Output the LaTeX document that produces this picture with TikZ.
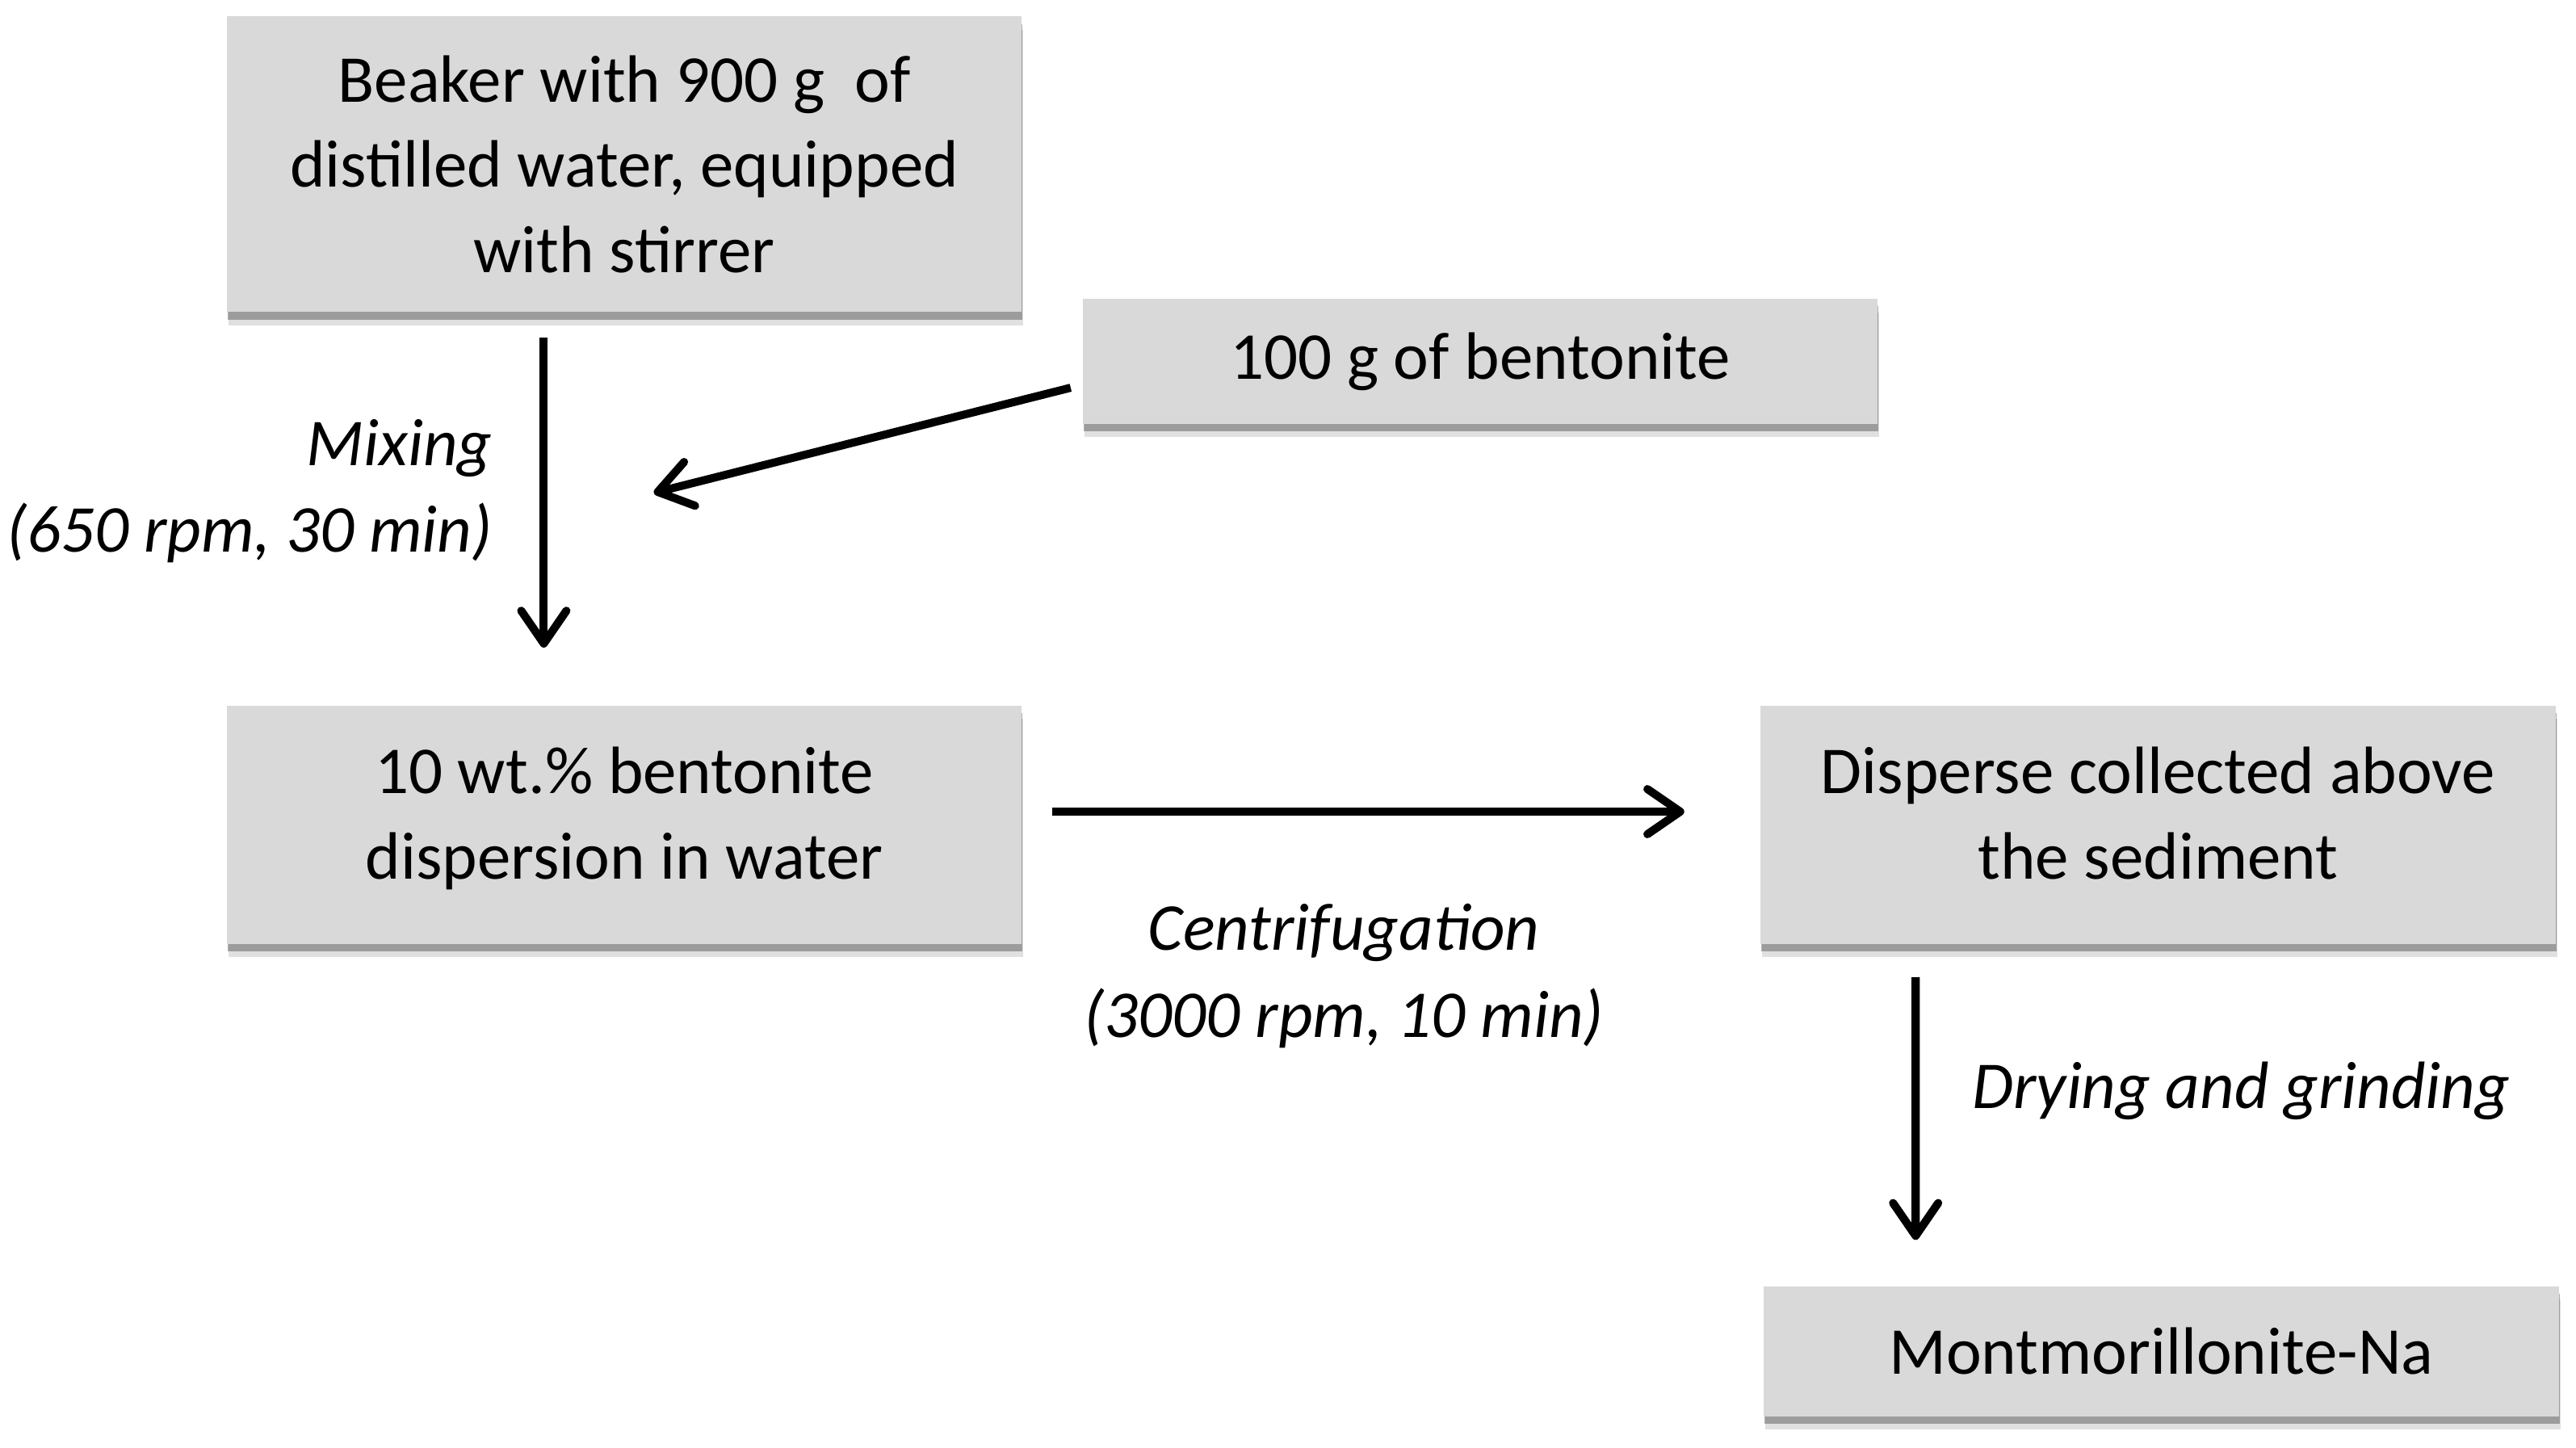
\documentclass[tikz,border=0pt]{standalone}
\usepackage{fontspec}
\setmainfont{Carlito}
\usepackage{xcolor}
\usetikzlibrary{arrows.meta,shadows}

\definecolor{boxgray}{HTML}{D9D9D9}

\tikzset{
    stepbox/.style={fill=boxgray,inner sep=0pt,align=center,minimum width=9.68cm,
        drop shadow={shadow xshift=0.02cm,shadow yshift=-0.16cm,fill=black,opacity=0.12},
        drop shadow={shadow xshift=0.01cm,shadow yshift=-0.09cm,fill=black,opacity=0.3}},
    arr/.style={-{Straight Barb[length=4mm,width=5.5mm,round]},line width=2.8pt,line join=round},
    lbl/.style={font=\fontsize{23.2}{30}\selectfont\itshape,inner sep=0pt}
}

\begin{document}
\begin{tikzpicture}[x=0.02cm,y=-0.02cm,font=\fontsize{23.2}{29.6}\selectfont]
    \useasboundingbox (0,0) rectangle (1568,881.3);

    % Boxes
    \node[stepbox,minimum height=3.6cm] (beaker) at (380,100)
        {Beaker with 900 g\ \ of\\distilled water, equipped\\with stirrer};
    \node[stepbox,minimum height=1.52cm] (bent) at (901,220) {100 g of bentonite};
    \node[stepbox,minimum height=2.9cm] (disp) at (380,502)
        {10 wt.\% bentonite\\dispersion in water\\[-0.75cm]\mbox{}};
    \node[stepbox,minimum height=2.9cm] (coll) at (1313.5,502)
        {Disperse collected above\\the sediment\\[-0.75cm]\mbox{}};
    \node[stepbox,minimum height=1.58cm] (mmt) at (1315.5,822.5) {Montmorillonite-Na};

    % Arrows
    \coordinate (mixpt) at (398,300);
    \draw[arr] ([xshift=-0.98cm,yshift=-0.3cm]beaker.south) -- ([xshift=-0.98cm,yshift=0.7cm]disp.north);
    \draw[arr] ([xshift=-0.14cm,yshift=-0.32cm]bent.west) -- (mixpt);
    \draw[arr] ([xshift=0.36cm,yshift=0.16cm]disp.east) -- ([xshift=-0.92cm,yshift=0.16cm]coll.west);
    \draw[arr] ([xshift=-2.95cm,yshift=-0.4cm]coll.south) -- ([xshift=-2.99cm,yshift=0.56cm]mmt.north);

    % Labels
    \node[lbl,anchor=east,align=right] (mixlbl) at (300,299) {Mixing\\(650 rpm, 30 min)};
    \node[lbl,align=center] (centlbl) at (818,594) {Centrifugation\\(3000 rpm, 10 min)};
    \node[lbl,anchor=west] (drylbl) at (1200,664) {Drying and grinding};
\end{tikzpicture}
\end{document}
